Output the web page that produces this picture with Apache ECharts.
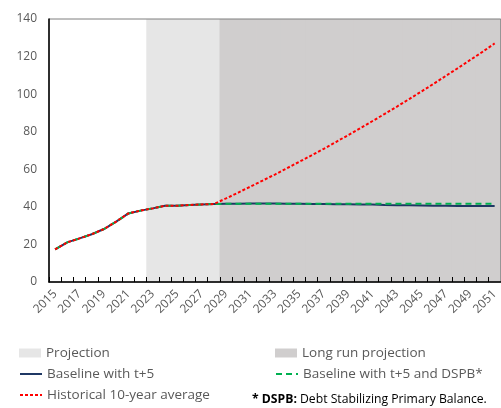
<!DOCTYPE html>
<html>
<head>
<meta charset="utf-8">
<script src="https://cdn.jsdelivr.net/npm/echarts@6/dist/echarts.min.js"></script>
<style>
  html, body { margin: 0; padding: 0; background: #fff; overflow: hidden; }
  #chart { width: 501px; height: 408px; }
</style>
</head>
<body>
<div id="chart"></div>
<script>
// years on the x axis
var years = [];
for (var y = 2015; y <= 2051; y++) years.push(String(y));

// shaded bands (full height of the value axis)
var projectionBand = [null, null, null, null, null, null, null, null,
  140, 140, 140, 140, 140, 140,
  null, null, null, null, null, null, null, null, null, null, null, null,
  null, null, null, null, null, null, null, null, null, null, null];
var longRunBand = [null, null, null, null, null, null, null, null, null, null, null, null, null, null,
  140, 140, 140, 140, 140, 140, 140, 140, 140, 140, 140, 140,
  140, 140, 140, 140, 140, 140, 140, 140, 140, 140, 140];

var baseline = [17.4, 21.1, 23.2, 25.4, 28.2, 32.1, 36.5, 38.0, 39.2, 40.6, 40.6, 41.0, 41.3, 41.5,
  41.6, 41.7, 41.8, 41.8, 41.8, 41.7, 41.6, 41.5, 41.5, 41.4, 41.4, 41.3,
  41.2, 41.0, 40.9, 40.8, 40.7, 40.6, 40.6, 40.5, 40.5, 40.4, 40.4];
var baselineDspb = [17.4, 21.1, 23.2, 25.4, 28.2, 32.1, 36.5, 38.0, 39.2, 40.6, 40.6, 41.0, 41.3, 41.5,
  41.6, 41.7, 41.7, 41.7, 41.7, 41.7, 41.7, 41.7, 41.7, 41.7, 41.7, 41.7,
  41.7, 41.7, 41.7, 41.7, 41.7, 41.7, 41.7, 41.7, 41.7, 41.7, 41.7];
var historical = [17.4, 21.1, 23.2, 25.4, 28.2, 32.1, 36.5, 38.0, 39.2, 40.6, 40.6, 41.0, 41.3, 41.5,
  44.5, 47.6, 50.8, 54.0, 57.2, 60.6, 64.0, 67.4, 70.9, 74.5, 78.2, 81.9,
  85.7, 89.5, 93.4, 97.4, 101.4, 105.5, 109.7, 113.9, 118.2, 122.5, 127.0];

var chart = echarts.init(document.getElementById('chart'));

var legendText = { color: '#595959', fontSize: 13.5, fontFamily: 'Open Sans' };

// one legend per entry so each sits where the original put it
function legendAt(name, left, top, icon) {
  var item = icon ? { name: name, icon: icon } : name;
  return {
    left: left, top: top, padding: 0,
    itemWidth: 22, itemHeight: 9,
    textStyle: legendText,
    data: [item]
  };
}

var hidden = 'rgba(0,0,0,0)';

chart.setOption({
  animation: false,
  textStyle: { fontFamily: 'Open Sans' },
  grid: {
    left: 49, top: 19, width: 453, height: 263,
    show: true, borderColor: '#7f7f7f', borderWidth: 1
  },
  legend: [
    legendAt('Projection', 19, 346, 'rect'),
    legendAt('Baseline with t+5', 19, 367),
    legendAt('Historical 10-year average', 19, 388),
    legendAt('Long run projection', 275, 346, 'rect'),
    legendAt('Baseline with t+5 and DSPB*', 275, 367)
  ],
  graphic: [{
    type: 'text', left: 252, top: 394,
    style: {
      text: '{b|* DSPB:} Debt Stabilizing Primary Balance.',
      rich: {
        b: { fontWeight: 'bold', fontSize: 12.2, fontFamily: 'Open Sans', fill: '#000' }
      },
      fontSize: 12.2, fontFamily: 'Open Sans', fill: '#000'
    }
  }],
  xAxis: {
    type: 'category',
    data: years,
    z: 3,
    axisLine: { lineStyle: { color: '#000', width: 1.5 } },
    axisTick: { show: true, inside: true, length: 5, interval: 0, lineStyle: { color: '#000' } },
    axisLabel: { interval: 1, rotate: 45, margin: 10, color: '#595959', fontSize: 12 },
    splitLine: { show: false }
  },
  yAxis: {
    type: 'value',
    min: 0, max: 140, interval: 20,
    z: 3,
    axisLine: { show: true, lineStyle: { color: '#000', width: 1.5 } },
    axisTick: { show: false },
    axisLabel: { color: '#595959', fontSize: 12, margin: 12 },
    splitLine: { show: false }
  },
  series: [
    {
      // bars a bit wider than a band so neighbours overlap and leave no seams
      name: 'Projection', type: 'bar', data: projectionBand,
      barGap: '-100%', barWidth: 13, z: -1,
      itemStyle: { color: '#e6e6e6' }
    },
    {
      name: 'Long run projection', type: 'bar', data: longRunBand,
      barGap: '-100%', barWidth: 13, z: -1,
      itemStyle: { color: '#d0cece' }
    },
    {
      name: 'Baseline with t+5', type: 'line', data: baseline,
      symbol: 'none', lineStyle: { color: '#1f3864', width: 2 },
      itemStyle: { color: hidden, borderWidth: 0 }
    },
    {
      name: 'Baseline with t+5 and DSPB*', type: 'line', data: baselineDspb,
      symbol: 'none', lineStyle: { color: '#00b050', width: 2, type: [6, 4] },
      itemStyle: { color: hidden, borderWidth: 0 }
    },
    {
      name: 'Historical 10-year average', type: 'line', data: historical,
      symbol: 'none', lineStyle: { color: '#ff0000', width: 2, type: [3, 2] },
      itemStyle: { color: hidden, borderWidth: 0 }
    }
  ]
});
</script>
</body>
</html>
